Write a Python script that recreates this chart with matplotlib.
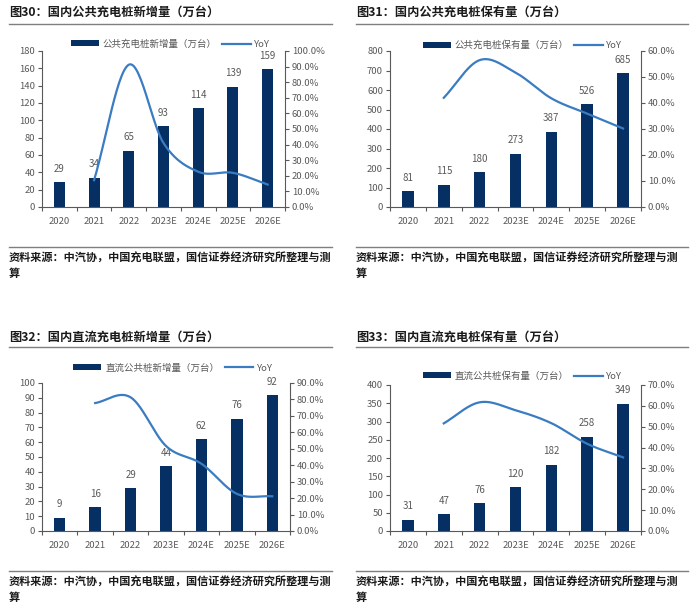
import numpy as np
import matplotlib
matplotlib.use("Agg")
import matplotlib.pyplot as plt
from matplotlib.ticker import FuncFormatter, MultipleLocator

plt.rcParams['font.family'] = ['Noto Sans CJK SC', 'DejaVu Sans']

W, H = 696, 612

years = ["2020", "2021", "2022", "2023E", "2024E", "2025E", "2026E"]

# 图30
pub_new = [29, 34, 65, 93, 114, 139, 159]
pub_new_yoy = [17.2, 91.2, 41.0, 22.6, 21.9, 14.4]
# 图31
pub_stock = [81, 115, 180, 273, 387, 526, 685]
pub_stock_yoy = [42.0, 56.5, 51.7, 41.8, 35.9, 30.2]
# 图32
dc_new = [9, 16, 29, 44, 62, 76, 92]
dc_new_yoy = [77.8, 81.3, 51.7, 40.9, 22.6, 21.1]
# 图33
dc_stock = [31, 47, 76, 120, 182, 258, 349]
dc_stock_yoy = [51.6, 61.7, 57.9, 51.7, 41.8, 35.3]

BAR = "#062F63"
LINE = "#3A7CC2"
GREY = "#595959"
SOURCE = "资料来源：中汽协，中国充电联盟，国信证券经济研究所整理与测"


def smooth(xs, ys, n=30):
    # Catmull-Rom curve through the points, like Excel's smoothed line
    xs = np.asarray(xs, float)
    ys = np.asarray(ys, float)
    px = np.concatenate([[2 * xs[0] - xs[1]], xs, [2 * xs[-1] - xs[-2]]])
    py = np.concatenate([[2 * ys[0] - ys[1]], ys, [2 * ys[-1] - ys[-2]]])
    ox, oy = [], []
    t = np.linspace(0, 1, n)
    for i in range(1, len(px) - 2):
        for p, out in ((px, ox), (py, oy)):
            p0, p1, p2, p3 = p[i - 1], p[i], p[i + 1], p[i + 2]
            out.extend(0.5 * (2 * p1 + (-p0 + p2) * t
                              + (2 * p0 - 5 * p1 + 4 * p2 - p3) * t ** 2
                              + (-p0 + 3 * p1 - 3 * p2 + p3) * t ** 3))
    return ox, oy


def rect(l, t, r, b):
    return [l / W, 1 - b / H, (r - l) / W, (b - t) / H]


def panel(fig, title, box, frame, bars, yoy, label, ymax, ystep, rmax, legend_y):
    l, t, r, b = box
    fx0, fx1, title_y, line_y, bot_y = frame
    # title and rules
    fig.text(fx0 / W, 1 - title_y / H, title, fontsize=8.8, fontweight='bold',
             va='center', ha='left', color='#1a1a1a')
    fig.add_artist(plt.Line2D([fx0 / W, fx1 / W], [1 - line_y / H] * 2,
                              color='#7f7f7f', lw=1.0))
    fig.add_artist(plt.Line2D([fx0 / W, fx1 / W], [1 - bot_y / H] * 2,
                              color='#7f7f7f', lw=1.0))
    fig.text(fx0 / W, 1 - (bot_y + 11) / H, SOURCE, fontsize=8.0, fontweight='bold',
             va='center', ha='left', color='#1a1a1a')
    fig.text(fx0 / W, 1 - (bot_y + 26) / H, "算", fontsize=8.0, fontweight='bold',
             va='center', ha='left', color='#1a1a1a')

    ax = fig.add_axes(rect(l, t, r, b))
    x = np.arange(len(years))
    bb = ax.bar(x, bars, width=0.32, color=BAR, label=label, zorder=2)
    for xi, v in zip(x, bars):
        ax.annotate(str(v), (xi, v), xytext=(0, 6), textcoords='offset points',
                    ha='center', va='bottom', fontsize=7, color=GREY)
    ax.set_xlim(-0.5, len(years) - 0.5)
    ax.set_ylim(0, ymax)
    ax.yaxis.set_major_locator(MultipleLocator(ystep))
    ax.set_xticks(x)
    ax.set_xticklabels(years)
    ax.set_xticks(np.arange(-0.5, len(years)), minor=True)
    ax.tick_params(axis='x', which='major', length=0, pad=7, labelsize=6.8, labelcolor=GREY)
    ax.tick_params(axis='x', which='minor', length=3, color=GREY, width=0.8)
    ax.tick_params(axis='y', length=3, color=GREY, width=0.8, labelsize=6.8,
                   labelcolor=GREY, pad=2)
    ax.spines['top'].set_visible(False)
    ax.spines['right'].set_visible(False)
    for s in ('left', 'bottom'):
        ax.spines[s].set_color(GREY)
        ax.spines[s].set_linewidth(0.8)

    ax2 = ax.twinx()
    sx, sy = smooth(x[1:], yoy)
    ln, = ax2.plot(sx, sy, color=LINE, lw=1.6, label="YoY", zorder=3)
    ax2.set_ylim(0, rmax)
    ax2.yaxis.set_major_locator(MultipleLocator(10))
    ax2.yaxis.set_major_formatter(FuncFormatter(lambda v, p: f"{v:.1f}%"))
    ax2.tick_params(axis='y', length=3, color=GREY, width=0.8, labelsize=6.8,
                    labelcolor=GREY, pad=2)
    for s in ('top', 'left', 'bottom'):
        ax2.spines[s].set_visible(False)
    ax2.spines['right'].set_color(GREY)
    ax2.spines['right'].set_linewidth(0.8)

    fig.legend([bb, ln], [label, "YoY"], loc='center',
               bbox_to_anchor=(((l + r) / 2 + 7) / W, 1 - legend_y / H),
               ncol=2, frameon=False, fontsize=6.8, handlelength=3.0,
               handleheight=0.6, columnspacing=0.6, handletextpad=0.4,
               labelcolor=GREY)


fig = plt.figure(figsize=(W / 100, H / 100), dpi=100)

panel(fig, "图30：国内公共充电桩新增量（万台）", (42, 51, 285, 207),
      (9, 332, 12, 24, 247), pub_new, pub_new_yoy, "公共充电桩新增量（万台）",
      180, 20, 100, 44)
panel(fig, "图31：国内公共充电桩保有量（万台）", (390, 51, 641, 207),
      (356, 688, 12, 24, 247), pub_stock, pub_stock_yoy, "公共充电桩保有量（万台）",
      800, 100, 60, 45)
panel(fig, "图32：国内直流充电桩新增量（万台）", (42, 383, 290, 531),
      (9, 332, 337, 347, 571), dc_new, dc_new_yoy, "直流公共桩新增量（万台）",
      100, 10, 90, 368)
panel(fig, "图33：国内直流充电桩保有量（万台）", (390, 385, 641, 531),
      (356, 688, 337, 347, 571), dc_stock, dc_stock_yoy, "直流公共桩保有量（万台）",
      400, 50, 70, 376)

fig.savefig("out.png", dpi=100)
